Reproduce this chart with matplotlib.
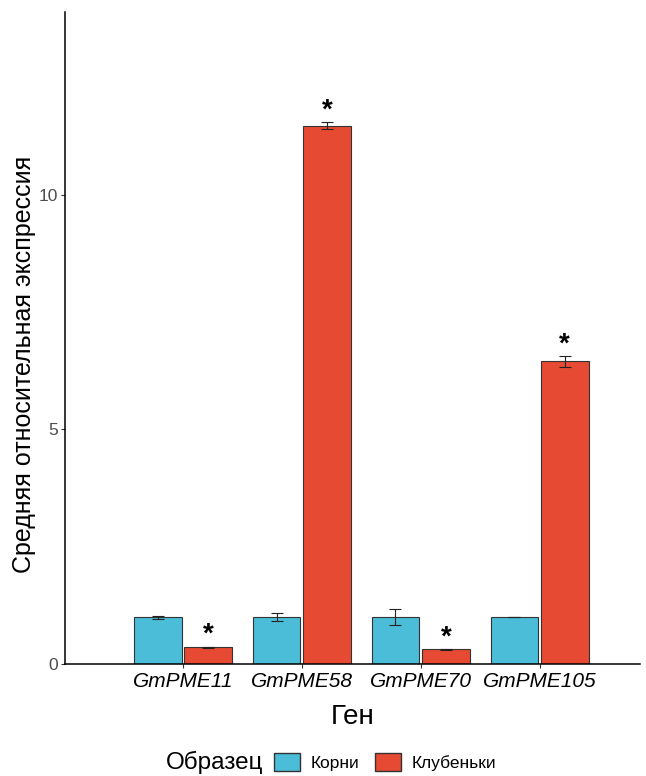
import numpy as np
import matplotlib
matplotlib.use("Agg")
import matplotlib.pyplot as plt
from matplotlib.patches import Patch

plt.rcParams['font.family'] = ['Liberation Sans', 'DejaVu Sans']

# data
genes = ['GmPME11', 'GmPME58', 'GmPME70', 'GmPME105']
roots = [1.0, 1.0, 1.0, 1.0]
roots_err = [0.03, 0.08, 0.17, 0.0]
nodules = [0.36, 11.48, 0.31, 6.45]
nodules_err = [0.01, 0.08, 0.01, 0.12]
signif = [True, True, True, True]

c_roots = '#4BBDD8'
c_nod = '#E64A32'

fig = plt.figure(figsize=(6.46, 7.76), dpi=100)
ax = fig.add_axes([0.1006, 0.1443, 0.8904, 0.8402])

x = np.arange(1, len(genes) + 1)
w = 0.40
off = 0.2125
ax.bar(x - off, roots, w, color=c_roots, edgecolor='#333333', linewidth=0.8, zorder=2)
ax.bar(x + off, nodules, w, color=c_nod, edgecolor='#333333', linewidth=0.8, zorder=2)
ax.errorbar(x - off, roots, yerr=roots_err, fmt='none', ecolor='#222222',
            elinewidth=0.8, capsize=4, capthick=0.8, zorder=3)
ax.errorbar(x + off, nodules, yerr=nodules_err, fmt='none', ecolor='#222222',
            elinewidth=0.8, capsize=4, capthick=0.8, zorder=3)

# significance marks
for xi, v, e, s in zip(x + off, nodules, nodules_err, signif):
    if s:
        ax.text(xi, v + e - 0.03, '*', ha='center', va='bottom', fontsize=20,
                fontweight='bold', color='black')

ax.set_xlim(0.007, 4.847)
ax.set_ylim(0, 13.9)
ax.set_xticks(x)
ax.set_xticklabels(genes, fontsize=15, fontstyle='italic', color='black')
ax.set_yticks([0, 5, 10])
ax.set_yticklabels(['0', '5', '10'], fontsize=12.5, color='#4d4d4d')
ax.tick_params(axis='both', length=3, width=0.8, color='#333333', pad=2)
ax.tick_params(axis='x', pad=3)

for s in ['top', 'right']:
    ax.spines[s].set_visible(False)
for s in ['left', 'bottom']:
    ax.spines[s].set_linewidth(1.1)
    ax.spines[s].set_color('black')

ax.set_xlabel('Ген', fontsize=20, labelpad=9)
ax.set_ylabel('Средняя относительная экспрессия', fontsize=18)
ax.yaxis.set_label_coords(-0.051, 0.459)

fig.text(0.256, 0.018, 'Образец', fontsize=17.5, ha='left', va='center')
handles = [Patch(facecolor=c_roots, edgecolor='#333333', label='Корни'),
           Patch(facecolor=c_nod, edgecolor='#333333', label='Клубеньки')]
fig.legend(handles=handles, loc='center left', bbox_to_anchor=(0.424, 0.018),
           ncol=2, frameon=False, fontsize=12.5, handlelength=1.5, handleheight=1.3,
           handletextpad=0.6, columnspacing=0.9, borderaxespad=0, borderpad=0)

fig.savefig('out.png', dpi=100)
